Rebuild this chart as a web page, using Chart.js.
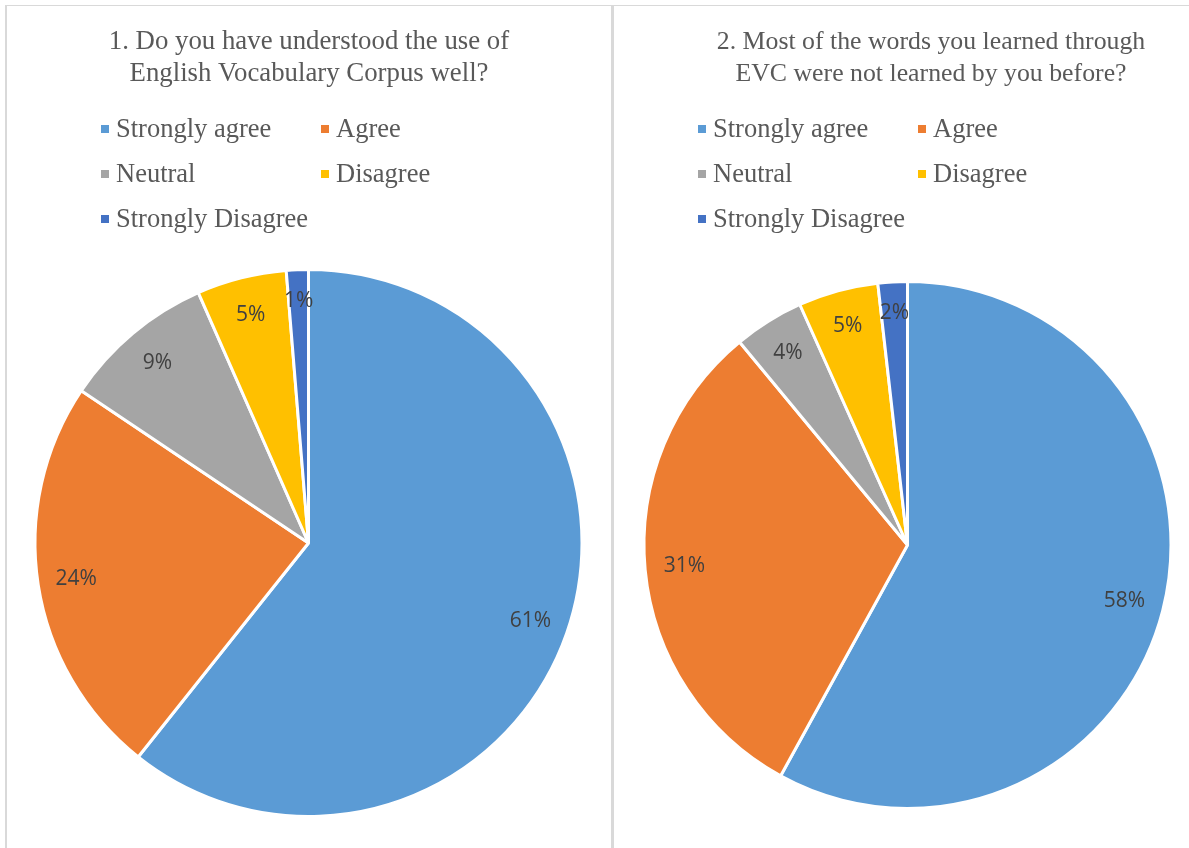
<!DOCTYPE html>
<html>
<head>
<meta charset="utf-8">
<script src="https://cdn.jsdelivr.net/npm/chart.js@4"></script>
<style>
  html, body { margin: 0; padding: 0; background: #fff; }
  body { width: 1189px; height: 848px; position: relative; overflow: hidden; }
  .line { position: absolute; background: #D9D9D9; }
  canvas { position: absolute; top: 0; }
</style>
</head>
<body>
<div class="line" style="left:5px; top:5px; width:1184px; height:1px;"></div>
<div class="line" style="left:5px; top:5px; width:2px; height:843px;"></div>
<div class="line" style="left:611px; top:5px; width:3px; height:843px;"></div>
<canvas id="c1" style="left:0px; width:611px; height:848px;" width="611" height="848"></canvas>
<canvas id="c2" style="left:614px; width:575px; height:848px;" width="575" height="848"></canvas>
<script>
const categories = ["Strongly agree", "Agree", "Neutral", "Disagree", "Strongly Disagree"];
const title1 = ["1. Do you have understood the use of", "English Vocabulary Corpus well?"];
const title2 = ["2. Most of the words you learned through", "EVC were not learned by you before?"];
const values1 = [60.7, 23.7, 9.0, 5.3, 1.3];
const values2 = [58.0, 31.0, 4.3, 4.9, 1.8];
const colors = ["#5B9BD5", "#ED7D31", "#A5A5A5", "#FFC000", "#4472C4"];

const SERIF = '"Liberation Serif", "Times New Roman", serif';

// Custom title + 2-column legend + data labels
const decorPlugin = {
  id: 'decor',
  afterDraw(chart, args, opts) {
    const ctx = chart.ctx;
    ctx.save();
    // title
    ctx.fillStyle = '#595959';
    ctx.font = opts.titleSize + 'px ' + SERIF;
    ctx.textAlign = 'center';
    ctx.textBaseline = 'middle';
    opts.title.forEach((t, i) => ctx.fillText(t, opts.titleX, 42 + i * 32));
    // legend
    ctx.font = '26.5px ' + SERIF;
    ctx.textAlign = 'left';
    const labels = chart.data.labels;
    const bg = chart.data.datasets[0].backgroundColor;
    labels.forEach((lab, i) => {
      const col = i % 2, row = Math.floor(i / 2);
      const x = opts.legendX[col];
      const y = 129 + row * 45;
      ctx.fillStyle = bg[i];
      ctx.fillRect(x, y - 4, 8, 8);
      ctx.fillStyle = '#595959';
      ctx.fillText(lab, x + 15, y + 1);
    });
    // data labels
    const meta = chart.getDatasetMeta(0);
    const data = chart.data.datasets[0].data;
    ctx.font = '21px "Open Sans", sans-serif';
    ctx.fillStyle = '#404040';
    ctx.textAlign = 'center';
    ctx.textBaseline = 'middle';
    meta.data.forEach((arc, i) => {
      const {x, y, startAngle, endAngle, outerRadius} = arc.getProps(['x','y','startAngle','endAngle','outerRadius'], true);
      const mid = (startAngle + endAngle) / 2;
      const f = opts.labelFrac[i];
      const lx = x + Math.cos(mid) * outerRadius * f;
      const ly = y + Math.sin(mid) * outerRadius * f;
      ctx.fillText(Math.round(data[i]) + '%', lx, ly);
    });
    ctx.restore();
  }
};

function makeChart(id, values, title, padding, titleX, titleSize, legendX, labelFrac) {
  return new Chart(document.getElementById(id), {
    type: 'pie',
    data: {
      labels: categories,
      datasets: [{
        data: values,
        backgroundColor: colors,
        borderColor: '#ffffff',
        borderWidth: 3
      }]
    },
    options: {
      responsive: false,
      animation: false,
      layout: { padding: padding },
      plugins: {
        legend: { display: false },
        title: { display: false },
        tooltip: { enabled: false },
        decor: { title: title, titleX: titleX, titleSize: titleSize, legendX: legendX, labelFrac: labelFrac }
      }
    },
    plugins: [decorPlugin]
  });
}

makeChart('c1', values1, title1, {left: 6, right: 0, top: 268, bottom: 30}, 309, 26.8, [101, 321], [0.86, 0.86, 0.86, 0.86, 0.885]);
makeChart('c2', values2, title2, {left: 12, right: 0, top: 280, bottom: 38}, 317, 25.8, [84, 304], [0.85, 0.85, 0.86, 0.86, 0.88]);
</script>
</body>
</html>
